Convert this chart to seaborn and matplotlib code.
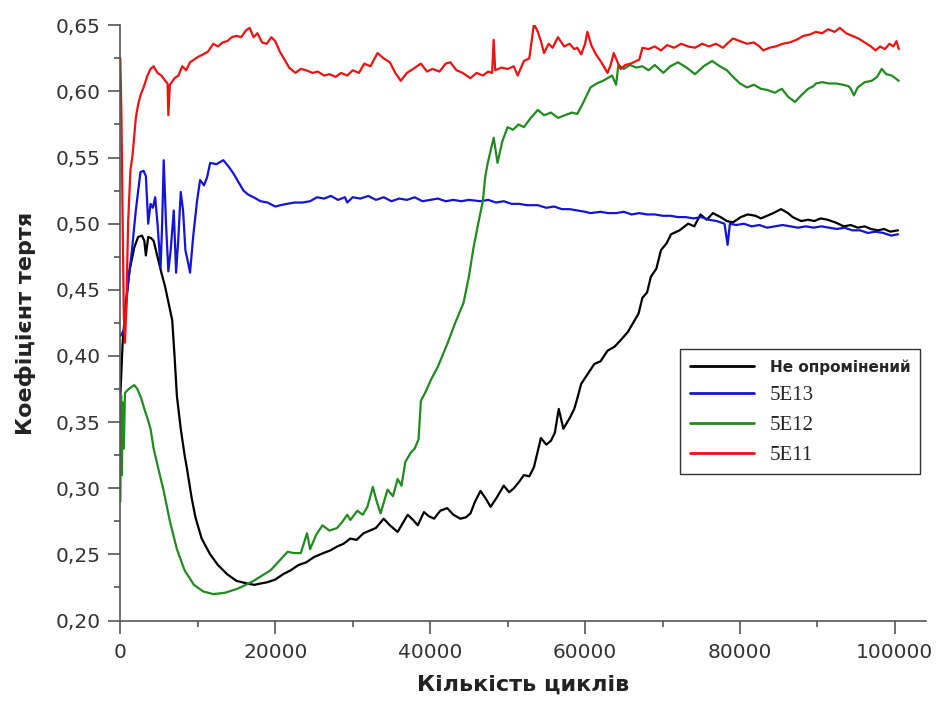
import numpy as np
import pandas as pd
import seaborn as sns
import matplotlib.pyplot as plt
from matplotlib.ticker import MultipleLocator, FuncFormatter

# Не опромінений (black)
x_black = [0, 300, 700, 1200, 1800, 2300, 2800, 3100, 3300, 3600, 4000, 4300, 4800, 5300, 5800, 6300, 6700, 7000,
           7300, 7800, 8300, 8600, 9200, 9700, 10500, 11600, 12600, 13800, 15000, 16400, 17300, 18100, 19000, 20000,
           21000, 22000, 23000, 24000, 25000, 26200, 27100, 28000, 28800, 29700, 30500, 31400, 32200, 33000, 34000,
           34800, 35800, 36500, 37100, 37800, 38400, 39200, 39800, 40500, 41300, 42200, 43000, 43900, 44600, 45200,
           45800, 46500, 47200, 47800, 48600, 49500, 50200, 50800, 51500, 52100, 52800, 53400, 54300, 55000, 55600,
           56100, 56600, 57200, 57700, 58100, 58600, 59000, 59500, 60300, 61200, 62000, 62900, 63800, 64600, 65500,
           66300, 66900, 67400, 68000, 68500, 69200, 69800, 70500, 71100, 72200, 73300, 74100, 74900, 75700, 76500,
           77500, 78300, 79100, 80100, 81000, 82000, 82700, 83500, 84300, 85300, 86200, 86800, 87900, 88800, 89600,
           90400, 91300, 92300, 93400, 94300, 95200, 96100, 96900, 97800, 98600, 99400, 100400]
y_black = [0.37, 0.41, 0.44, 0.465, 0.482, 0.49, 0.491, 0.487, 0.476, 0.49, 0.489, 0.487, 0.475, 0.463, 0.452, 0.438,
           0.427, 0.40, 0.37, 0.345, 0.325, 0.315, 0.293, 0.278, 0.262, 0.25, 0.242, 0.235, 0.23, 0.228, 0.227, 0.228,
           0.229, 0.231, 0.235, 0.238, 0.242, 0.244, 0.248, 0.251, 0.253, 0.256, 0.258, 0.262, 0.261, 0.266, 0.268,
           0.27, 0.277, 0.272, 0.267, 0.274, 0.28, 0.276, 0.272, 0.282, 0.279, 0.277, 0.283, 0.285, 0.28, 0.277,
           0.278, 0.281, 0.29, 0.298, 0.292, 0.286, 0.293, 0.302, 0.297, 0.30, 0.305, 0.31, 0.309, 0.316, 0.338,
           0.333, 0.336, 0.342, 0.36, 0.345, 0.35, 0.354, 0.36, 0.368, 0.379, 0.386, 0.394, 0.396, 0.404, 0.407,
           0.412, 0.418, 0.426, 0.432, 0.444, 0.448, 0.46, 0.466, 0.48, 0.485, 0.492, 0.495, 0.50, 0.498, 0.507,
           0.503, 0.508, 0.505, 0.502, 0.501, 0.505, 0.507, 0.506, 0.504, 0.506, 0.508, 0.511, 0.508, 0.505, 0.502,
           0.503, 0.502, 0.504, 0.503, 0.501, 0.498, 0.499, 0.497, 0.498, 0.496, 0.495, 0.496, 0.494, 0.495]

# 5E13 (blue)
x_blue = [0, 500, 1000, 1500, 2000, 2600, 3000, 3300, 3600, 3900, 4200, 4500, 4800, 5200, 5400, 5600, 5900, 6200,
          6500, 6900, 7200, 7500, 7800, 8100, 8400, 8700, 9000, 9400, 9900, 10300, 10800, 11200, 11600, 12400, 13300,
          14000, 14600, 15200, 15900, 16500, 17200, 18100, 19000, 20000, 20700, 21500, 22500, 23500, 24500, 25400,
          26300, 27200, 28100, 29000, 29300, 30000, 31000, 32000, 33000, 34000, 35000, 36000, 37000, 38000, 39000,
          40000, 41000, 42000, 43000, 44000, 45000, 46500, 47500, 48500, 49500, 50500, 51500, 52500, 53900, 55000,
          56000, 57000, 58000, 59000, 60000, 60700, 62000, 63000, 64000, 65000, 66000, 67000, 68000, 69000, 70000,
          71000, 72000, 73000, 74000, 75000, 76000, 77000, 78000, 78400, 78700, 79500, 80500, 81500, 82500, 83500,
          84500, 85500, 86500, 87500, 88500, 89500, 90500, 91500, 92500, 93500, 94500, 95500, 96500, 97500, 98500,
          99500, 100400]
y_blue = [0.415, 0.42, 0.455, 0.48, 0.51, 0.539, 0.54, 0.536, 0.50, 0.515, 0.512, 0.52, 0.50, 0.467, 0.50, 0.548,
          0.50, 0.464, 0.48, 0.51, 0.463, 0.49, 0.524, 0.51, 0.48, 0.472, 0.463, 0.49, 0.517, 0.533, 0.529, 0.535,
          0.546, 0.545, 0.548, 0.543, 0.538, 0.532, 0.525, 0.522, 0.52, 0.517, 0.516, 0.513, 0.514, 0.515, 0.516,
          0.516, 0.517, 0.52, 0.519, 0.521, 0.518, 0.52, 0.516, 0.52, 0.519, 0.521, 0.518, 0.52, 0.517, 0.519, 0.518,
          0.52, 0.517, 0.518, 0.519, 0.517, 0.518, 0.517, 0.518, 0.517, 0.518, 0.516, 0.517, 0.515, 0.515, 0.514,
          0.514, 0.512, 0.513, 0.511, 0.511, 0.51, 0.509, 0.508, 0.509, 0.508, 0.508, 0.509, 0.507, 0.508, 0.507,
          0.507, 0.506, 0.506, 0.505, 0.505, 0.504, 0.505, 0.503, 0.502, 0.50, 0.484, 0.50, 0.499, 0.50, 0.498, 0.499,
          0.497, 0.498, 0.499, 0.498, 0.497, 0.498, 0.497, 0.498, 0.497, 0.496, 0.497, 0.495, 0.495, 0.493, 0.494,
          0.493, 0.491, 0.492]

# 5E12 (green)
x_green = [0, 100, 200, 300, 450, 600, 900, 1300, 1800, 2200, 2700, 3100, 3500, 3900, 4300, 4900, 5600, 6400, 7300,
           8300, 9500, 10700, 12000, 13500, 15100, 16200, 17200, 18300, 19400, 20500, 21600, 22400, 23300, 24100,
           24500, 25300, 26100, 27000, 28000, 28700, 29300, 29700, 30600, 31300, 31900, 32600, 33100, 33600, 34500,
           35200, 35800, 36300, 36800, 37500, 38000, 38500, 38800, 39500, 40100, 41000, 42200, 43300, 44300, 45000,
           45600, 46200, 46800, 47100, 47400, 47800, 48200, 48700, 49300, 50000, 50700, 51400, 52100, 53000, 53900,
           54700, 55600, 56500, 57400, 58300, 59000, 59800, 60700, 61500, 62300, 62900, 63500, 64000, 64300, 65000,
           65800, 66600, 67400, 68200, 69000, 70100, 71000, 72000, 73100, 74200, 75300, 76400, 77400, 78300, 79100,
           80000, 80900, 81800, 82700, 83600, 84500, 85400, 86200, 87100, 87900, 88800, 89500, 89800, 90600, 91500,
           92400, 93300, 94000, 94300, 94700, 95200, 96100, 97000, 97700, 98300, 98900, 99600, 100500]
y_green = [0.29, 0.37, 0.31, 0.365, 0.33, 0.372, 0.374, 0.376, 0.378, 0.375, 0.368, 0.36, 0.353, 0.345, 0.33, 0.315,
           0.298, 0.275, 0.254, 0.238, 0.227, 0.222, 0.22, 0.221, 0.224, 0.227, 0.23, 0.234, 0.238, 0.245, 0.252,
           0.251, 0.251, 0.266, 0.254, 0.265, 0.272, 0.268, 0.27, 0.275, 0.28, 0.276, 0.283, 0.28, 0.286, 0.301, 0.29,
           0.281, 0.299, 0.294, 0.307, 0.302, 0.32, 0.327, 0.33, 0.337, 0.366, 0.374, 0.382, 0.392, 0.409, 0.426,
           0.44, 0.46, 0.482, 0.50, 0.517, 0.535, 0.545, 0.555, 0.565, 0.546, 0.562, 0.573, 0.571, 0.575, 0.573, 0.58,
           0.586, 0.582, 0.584, 0.58, 0.582, 0.584, 0.583, 0.592, 0.603, 0.606, 0.608, 0.61, 0.612, 0.605, 0.62,
           0.617, 0.62, 0.618, 0.619, 0.616, 0.62, 0.614, 0.619, 0.622, 0.618, 0.613, 0.619, 0.623, 0.619, 0.616,
           0.611, 0.606, 0.603, 0.605, 0.602, 0.601, 0.599, 0.602, 0.596, 0.592, 0.597, 0.602, 0.604, 0.606, 0.607,
           0.606, 0.606, 0.605, 0.604, 0.602, 0.597, 0.603, 0.607, 0.608, 0.611, 0.617, 0.613, 0.612, 0.608]

# 5E11 (red)
x_red = [0, 150, 300, 450, 600, 800, 1000, 1300, 1600, 2000, 2300, 2600, 3000, 3500, 3900, 4300, 4800, 5300, 5800,
         6100, 6200, 6400, 7000, 7500, 8000, 8500, 9000, 9500, 10000, 10700, 11300, 12000, 12600, 13200, 13800,
         14400, 15000, 15600, 16200, 16700, 17200, 17700, 18300, 18900, 19500, 20000, 20600, 21200, 21800, 22600,
         23300, 24000, 24800, 25500, 26300, 27000, 27800, 28500, 29300, 30000, 30800, 31500, 32300, 33200, 34000,
         34800, 35500, 36200, 37000, 37800, 38800, 39600, 40300, 41200, 42000, 42600, 43400, 44200, 45200, 46000,
         46800, 47500, 48000, 48200, 48400, 49200, 50000, 50800, 51300, 52100, 52800, 53400, 53900, 54300, 54700,
         55300, 55800, 56500, 57300, 58000, 58600, 59000, 59500, 60000, 60300, 60800, 61400, 62100, 62900, 63300,
         63700, 64200, 64600, 65200, 65900, 66600, 67000, 67400, 68200, 69000, 69800, 70600, 71500, 72400, 73300,
         74200, 75100, 76000, 76900, 77800, 78500, 79100, 80000, 80900, 81800, 82500, 83000, 83800, 84600, 85500,
         86400, 87300, 88200, 89000, 89800, 90600, 91400, 92200, 92900, 93700, 94500, 95300, 96100, 96900, 97500,
         98100, 98700, 99300, 99800, 100200, 100500]
y_red = [0.625, 0.58, 0.50, 0.43, 0.41, 0.44, 0.50, 0.54, 0.553, 0.58, 0.59, 0.597, 0.603, 0.612, 0.617, 0.619,
         0.614, 0.612, 0.608, 0.606, 0.582, 0.605, 0.61, 0.612, 0.619, 0.616, 0.622, 0.624, 0.626, 0.628, 0.63,
         0.636, 0.634, 0.637, 0.638, 0.641, 0.642, 0.641, 0.646, 0.648, 0.641, 0.644, 0.637, 0.636, 0.641, 0.638,
         0.63, 0.624, 0.618, 0.614, 0.617, 0.616, 0.614, 0.615, 0.612, 0.613, 0.611, 0.614, 0.612, 0.616, 0.614,
         0.621, 0.619, 0.629, 0.625, 0.622, 0.614, 0.608, 0.614, 0.617, 0.621, 0.615, 0.617, 0.615, 0.621, 0.622,
         0.616, 0.614, 0.61, 0.614, 0.612, 0.615, 0.614, 0.639, 0.616, 0.618, 0.617, 0.619, 0.612, 0.623, 0.625,
         0.651, 0.645, 0.638, 0.629, 0.636, 0.633, 0.641, 0.634, 0.636, 0.632, 0.633, 0.628, 0.636, 0.645, 0.635,
         0.628, 0.622, 0.614, 0.62, 0.629, 0.622, 0.617, 0.62, 0.621, 0.623, 0.624, 0.633, 0.632, 0.634, 0.631,
         0.635, 0.633, 0.636, 0.634, 0.633, 0.636, 0.634, 0.636, 0.633, 0.637, 0.64, 0.638, 0.636, 0.637, 0.634,
         0.631, 0.633, 0.634, 0.636, 0.637, 0.639, 0.642, 0.643, 0.645, 0.644, 0.647, 0.645, 0.648, 0.644, 0.642,
         0.64, 0.637, 0.634, 0.631, 0.634, 0.632, 0.636, 0.634, 0.638, 0.632]

series = [
    (x_black, y_black, "Не опромінений", "black"),
    (x_blue, y_blue, "5E13", "#1414d8"),
    (x_green, y_green, "5E12", "#218a21"),
    (x_red, y_red, "5E11", "#ee1111"),
]

sns.set_style("ticks")
plt.rcParams['font.family'] = ['DejaVu Sans']

fig = plt.figure(figsize=(9.4, 7.02), dpi=100)
ax = fig.add_axes([0.128, 0.116, 0.857, 0.848])

for xs, ys, name, col in series:
    sns.lineplot(x=xs, y=ys, color=col, label=name, ax=ax, estimator=None, sort=False, linewidth=1.6)

ax.set_xlim(0, 104000)
ax.set_ylim(0.20, 0.65)
ax.xaxis.set_major_locator(MultipleLocator(20000))
ax.xaxis.set_minor_locator(MultipleLocator(10000))
ax.yaxis.set_major_locator(MultipleLocator(0.05))
ax.yaxis.set_minor_locator(MultipleLocator(0.025))
ax.yaxis.set_major_formatter(FuncFormatter(lambda v, p: f"{v:.2f}".replace('.', ',')))
ax.tick_params(axis='both', which='major', length=9, width=1.2, color='#555555', labelsize=14.5, colors='#333333')
ax.tick_params(axis='both', which='minor', length=4.5, width=1.2, color='#555555')
ax.tick_params(axis='x', which='major', pad=7)
ax.tick_params(axis='y', which='major', pad=5)
sns.despine(ax=ax)
for s in ['left', 'bottom']:
    ax.spines[s].set_color('#555555')
    ax.spines[s].set_linewidth(1.2)

ax.set_xlabel("Кількість циклів", fontsize=16, fontweight='bold', color='#222222', labelpad=9)
ax.set_ylabel("Коефіцієнт тертя", fontsize=16, fontweight='bold', color='#222222', labelpad=14)

leg = ax.legend(loc='upper left', bbox_to_anchor=(0.695, 0.456), borderaxespad=0, fancybox=False,
                edgecolor='#333333', framealpha=1, handlelength=3.3, fontsize=14, labelspacing=0.55,
                borderpad=0.5)
leg.get_frame().set_linewidth(1.0)
texts = leg.get_texts()
texts[0].set_fontweight('bold')
texts[0].set_fontsize(11)
for t in texts[1:]:
    t.set_family('Liberation Serif')
    t.set_fontsize(15)
for line in leg.get_lines():
    line.set_linewidth(2.0)

fig.savefig("out.png", dpi=100)
